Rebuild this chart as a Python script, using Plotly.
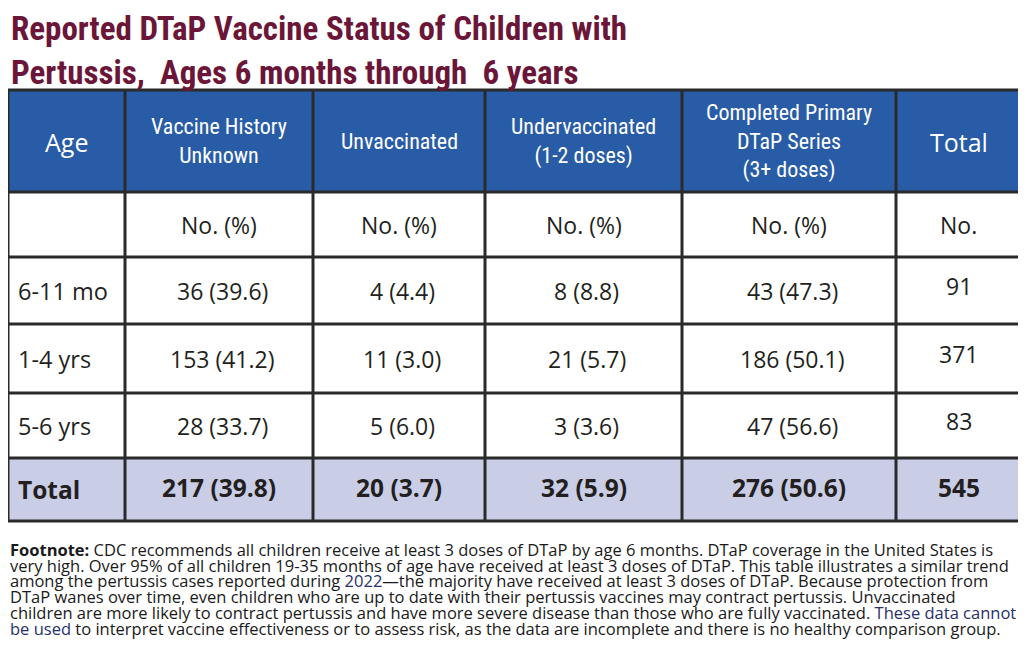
import plotly.graph_objects as go

# ---------------- data ----------------
title_lines = ["Reported DTaP Vaccine Status of Children with",
               "Pertussis,&nbsp; Ages 6 months through&nbsp; 6 years"]
col_headers = ["Age", "Vaccine History<br>Unknown", "Unvaccinated",
               "Undervaccinated<br>(1-2 doses)",
               "Completed Primary<br>DTaP Series<br>(3+ doses)", "Total"]
sub_headers = ["", "No. (%)", "No. (%)", "No. (%)", "No. (%)", "No."]
ages = ["6-11 mo", "1-4 yrs", "5-6 yrs"]
unknown_n = [36, 153, 28]
unknown_pct = [39.6, 41.2, 33.7]
unvacc_n = [4, 11, 5]
unvacc_pct = [4.4, 3.0, 6.0]
under_n = [8, 21, 3]
under_pct = [8.8, 5.7, 3.6]
complete_n = [43, 186, 47]
complete_pct = [47.3, 50.1, 56.6]
row_totals = [91, 371, 83]
total_label = "Total"
total_n = [217, 20, 32, 276]
total_pct = [39.8, 3.7, 5.9, 50.6]
grand_total = 545
footnote_lines = [
    "<b>Footnote:</b> CDC recommends all children receive at least 3 doses of DTaP by age 6 months. DTaP coverage in the United States is",
    "very high. Over 95% of all children 19-35 months of age have received at least 3 doses of DTaP. This table illustrates a similar trend",
    "among the pertussis cases reported during <span style='color:#27306a'>2022</span>\u2014the majority have received at least 3 doses of DTaP. Because protection from",
    "DTaP wanes over time, even children who are up to date with their pertussis vaccines may contract pertussis. Unvaccinated",
    "children are more likely to contract pertussis and have more severe disease than those who are fully vaccinated. <span style='color:#27306a'>These data cannot</span>",
    "<span style='color:#27306a'>be used</span> to interpret vaccine effectiveness or to assess risk, as the data are incomplete and there is no healthy comparison group.",
]

# ---------------- layout constants ----------------
VW, VH = 1026, 658          # browser viewport
OFF = 8                     # default page body margin
col_edges = [8, 125, 313, 485, 682, 896, 1021]
row_edges = [90, 192, 257, 324, 393, 458, 521]
header_fill = "#285ca6"
total_fill = "#c9cee6"
grid_color = "#2a2a2a"
text_color = "#231f20"
title_color = "#6b1639"
body_font = "Open Sans, Noto Sans, sans-serif"
narrow_font = "Liberation Sans Narrow, Arial Narrow, Roboto Condensed, DejaVu Sans Condensed, sans-serif"

fig = go.Figure()
shapes = []
annotations = []

def cell_rect(c0, c1, r0, r1, fill):
    shapes.append(dict(type="rect", xref="x", yref="y",
                       x0=col_edges[c0], x1=col_edges[c1],
                       y0=row_edges[r0], y1=row_edges[r1],
                       fillcolor=fill, line=dict(width=0), layer="below"))

cell_rect(0, 6, 0, 1, header_fill)
cell_rect(0, 6, 1, 5, "white")
cell_rect(0, 6, 5, 6, total_fill)

for x in col_edges:
    shapes.append(dict(type="line", xref="x", yref="y", x0=x, x1=x,
                       y0=row_edges[0], y1=row_edges[-1],
                       line=dict(color=grid_color, width=3)))
for y in row_edges:
    shapes.append(dict(type="line", xref="x", yref="y", x0=col_edges[0] - 1.5,
                       x1=col_edges[-1] + 1.5, y0=y, y1=y,
                       line=dict(color=grid_color, width=3)))

def ctr(i):
    return (col_edges[i] + col_edges[i + 1]) / 2

def rmid(j):
    return (row_edges[j] + row_edges[j + 1]) / 2

def add_text(text, x, y, size, color=text_color, family=body_font,
             xanchor="center", yanchor="middle"):
    annotations.append(dict(text=text, x=x, y=y, xref="x", yref="y",
                            showarrow=False, xanchor=xanchor, yanchor=yanchor,
                            align="center" if xanchor == "center" else "left",
                            font=dict(size=size, color=color, family=family)))

# title
add_text("<b>" + title_lines[0] + "</b>", 9, 28, 33, title_color, narrow_font, "left")
add_text("<b>" + title_lines[1] + "</b>", 9, 72, 33, title_color, narrow_font, "left")

# header row
for i, h in enumerate(col_headers):
    if h in ("Age", "Total"):
        add_text(h, ctr(i), rmid(0) + 1, 25, "white")
    else:
        add_text(h, ctr(i), rmid(0), 22, "white", narrow_font)

# sub header
for i, s in enumerate(sub_headers):
    if s:
        add_text(s, ctr(i), rmid(1), 23)

# body rows
series = [(unknown_n, unknown_pct), (unvacc_n, unvacc_pct),
          (under_n, under_pct), (complete_n, complete_pct)]
for r, age in enumerate(ages):
    y = rmid(2 + r)
    add_text(age, col_edges[0] + 8, y, 23.5, xanchor="left")
    for c, (ns, ps) in enumerate(series):
        add_text(f"{ns[r]} ({ps[r]:.1f})", ctr(c + 1) + 3, y, 23)
    add_text(str(row_totals[r]), ctr(5), y - 5, 23)

# total row
y = rmid(5)
add_text("<b>" + total_label + "</b>", col_edges[0] + 8, y, 24.5, xanchor="left")
for c in range(4):
    add_text(f"<b>{total_n[c]} ({total_pct[c]:.1f})</b>", ctr(c + 1), y - 2, 24.5)
add_text(f"<b>{grand_total}</b>", ctr(5), y - 2, 24.5)

# footnote: one text block, tight leading (line pitch from the base size),
# glyphs enlarged through an inline span
foot_glyph = 16.5
foot_text = "<br>".join(
    f"<span style='font-size:{foot_glyph}px'>{ln}</span>" for ln in footnote_lines)
add_text(foot_text, 8, 589, 12.1, "#1a1a1a", body_font, "left")

fig.update_layout(
    width=VW - OFF, height=VH - OFF, autosize=False,
    margin=dict(l=0, r=0, t=0, b=0),
    paper_bgcolor="white", plot_bgcolor="white",
    xaxis=dict(range=[OFF, VW], visible=False, fixedrange=True),
    yaxis=dict(range=[VH, OFF], visible=False, fixedrange=True),
    shapes=shapes, annotations=annotations, showlegend=False,
)
fig.write_html("out.html")
